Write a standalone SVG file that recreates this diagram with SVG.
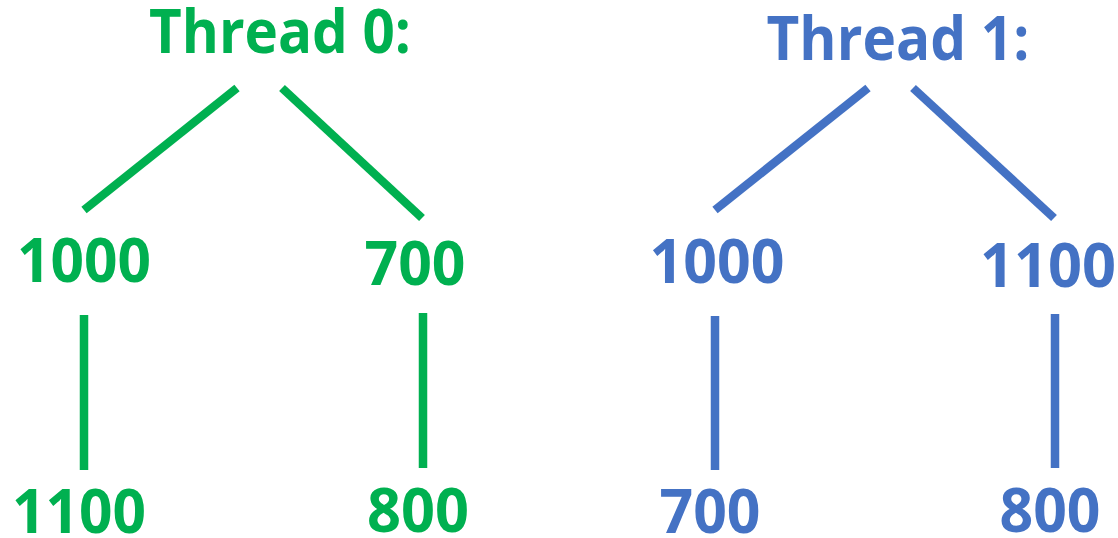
<svg xmlns="http://www.w3.org/2000/svg" width="1118" height="538" viewBox="0 0 1118 538">
  <style>
    text { font-family: "Open Sans", "Noto Sans", "Liberation Sans", sans-serif; font-weight: 700; font-size: 60px; text-anchor: middle; }
    .g { fill: #00B050; }
    .b { fill: #4472C4; }
    .eg { stroke: #00B050; stroke-width: 8.5; fill: none; }
    .eb { stroke: #4472C4; stroke-width: 8.5; fill: none; }
  </style>
  <rect width="1118" height="538" fill="#ffffff"/>

  <!-- tree edges -->
  <g id="connectors">
    <line class="eg" x1="237" y1="88" x2="84" y2="210"/>
    <line class="eg" x1="282" y1="88" x2="422" y2="218"/>
    <line class="eg" x1="84" y1="315" x2="84" y2="470"/>
    <line class="eg" x1="423" y1="313" x2="423" y2="468"/>
    <line class="eb" x1="868" y1="88" x2="715" y2="210"/>
    <line class="eb" x1="913" y1="88" x2="1054" y2="218"/>
    <line class="eb" x1="715" y1="316" x2="715" y2="470"/>
    <line class="eb" x1="1055" y1="314" x2="1055" y2="468"/>
  </g>

  <!-- thread 0 tree -->
  <g id="t0-root"><text class="g" x="280" y="53" textLength="262" lengthAdjust="spacingAndGlyphs">Thread 0:</text></g>
  <g id="t0-1000"><text class="g" x="84" y="282" textLength="134" lengthAdjust="spacingAndGlyphs">1000</text></g>
  <g id="t0-700"><text class="g" x="415" y="285" textLength="101" lengthAdjust="spacingAndGlyphs">700</text></g>
  <g id="t0-1100"><text class="g" x="79" y="533" textLength="134" lengthAdjust="spacingAndGlyphs">1100</text></g>
  <g id="t0-800"><text class="g" x="418" y="532" textLength="102" lengthAdjust="spacingAndGlyphs">800</text></g>

  <!-- thread 1 tree -->
  <g id="t1-root"><text class="b" x="898" y="60" textLength="263" lengthAdjust="spacingAndGlyphs">Thread 1:</text></g>
  <g id="t1-1000"><text class="b" x="717" y="283" textLength="135" lengthAdjust="spacingAndGlyphs">1000</text></g>
  <g id="t1-1100"><text class="b" x="1048" y="287" textLength="136" lengthAdjust="spacingAndGlyphs">1100</text></g>
  <g id="t1-700"><text class="b" x="710" y="533" textLength="101" lengthAdjust="spacingAndGlyphs">700</text></g>
  <g id="t1-800"><text class="b" x="1050" y="532" textLength="101" lengthAdjust="spacingAndGlyphs">800</text></g>
</svg>
